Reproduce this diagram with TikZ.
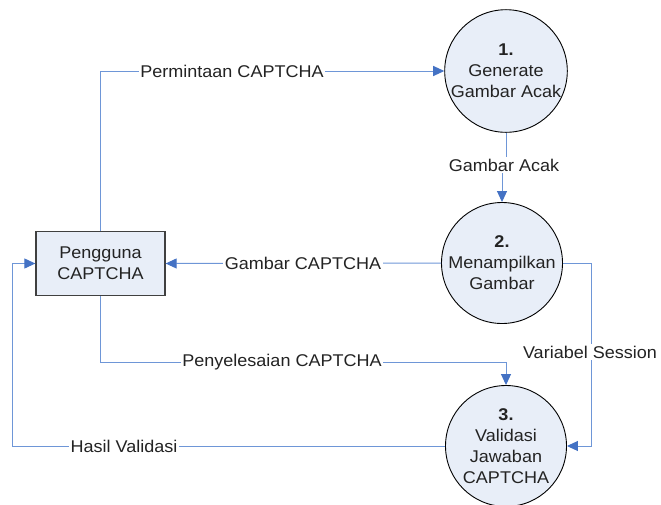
\documentclass[tikz,border=0pt]{standalone}
\usepackage{fontspec}
\setmainfont{Liberation Sans}[FakeStretch=1.06]
\usetikzlibrary{arrows.meta}
\definecolor{flow}{RGB}{110,150,215}
\definecolor{tipc}{RGB}{68,114,196}
\definecolor{procfill}{RGB}{232,238,248}
\definecolor{txt}{RGB}{35,35,35}
\begin{document}
\begin{tikzpicture}[x=1pt,y=-1pt,
  font=\fontsize{17}{21}\selectfont, text=txt,
  proc/.style={circle,draw=black,line width=0.9pt,fill=procfill,minimum size=121pt,inner sep=0pt,align=center},
  ent/.style={rectangle,draw=black!75,line width=1.3pt,fill=procfill,minimum width=129pt,minimum height=64pt,inner sep=0pt,align=center},
  flowline/.style={draw=flow,line width=1pt,-{Triangle[length=11pt,width=10pt,color=tipc]}},
  plainline/.style={draw=flow,line width=1pt},
  lbl/.style={fill=white,inner sep=1.5pt}]
\useasboundingbox (0,0) rectangle (661,504);

% nodes
\node[ent]  (user) at (100.5,263.5) {Pengguna\\CAPTCHA};
\node[proc] (p1) at (506,71)  {\textbf{1.}\\Generate\\Gambar Acak};
\node[proc] (p2) at (502,263) {\textbf{2.}\\Menampilkan\\Gambar};
\node[proc] (p3) at (506,446) {\textbf{3.}\\Validasi\\Jawaban\\CAPTCHA};

% helper coordinates
\coordinate (vs) at (591,263);
\coordinate (hv) at (12,446);
\coordinate (py) at (100.5,362);

% connectors
\draw[flowline] (user.north) |- (p1.west);
\node[lbl] (lperm) at (232,71) {Permintaan CAPTCHA};

\node[lbl] (lacak) at (504,165) {Gambar Acak};
\draw[plainline] (p1.south) -- (p1.south |- lacak.north);
\draw[flowline] (p2.north |- lacak.south) -- (p2.north);

\draw[flowline] (p2.west) -- (user.east);
\node[lbl] (lgc) at (303,263) {Gambar CAPTCHA};

\draw[flowline] (p2.east) -- (vs) |- (p3.east);
\node[lbl] (lvs) at (590,352) {Variabel Session};

\draw[flowline] (user.south) -- (py) -| (p3.north);
\node[lbl] (lpc) at (282,362) {Penyelesaian CAPTCHA};

\draw[flowline] (p3.west) -- (hv) |- (user.west);
\node[lbl] (lhv) at (124,446) {Hasil Validasi};
\end{tikzpicture}
\end{document}
